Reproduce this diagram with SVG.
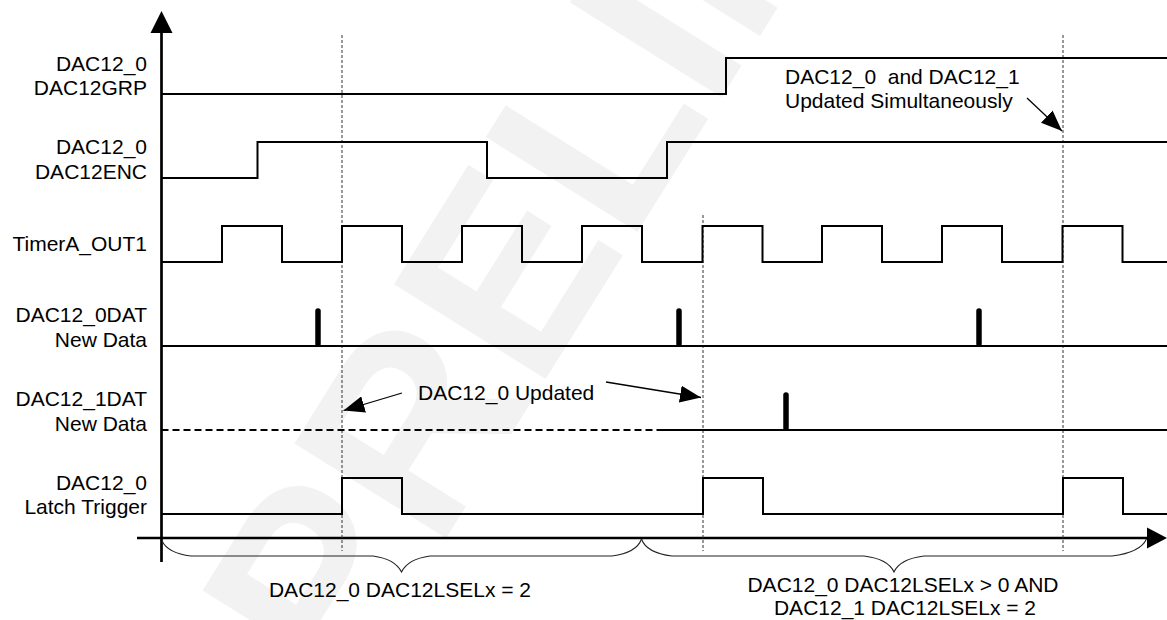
<svg xmlns="http://www.w3.org/2000/svg" width="1167" height="620" viewBox="0 0 1167 620">
  <style>
    .lbl { font-family: "Liberation Sans", Arial, sans-serif; font-size: 21px; fill: #000; }
    .end { text-anchor: end; }
    .mid { text-anchor: middle; }
    .sig { fill: none; stroke: #000; stroke-width: 2; stroke-linejoin: miter; }
    .axis { fill: none; stroke: #000; stroke-width: 2.7; }
    .dot { fill: none; stroke: #333; stroke-width: 1; stroke-dasharray: 3 2; }
    .tick { stroke: #000; stroke-width: 5.5; stroke-linecap: round; }
    .brace { fill: none; stroke: #222; stroke-width: 1.1; }
    .arr { fill: none; stroke: #000; stroke-width: 1.3; }
    .wm { font-family: "Liberation Sans", Arial, sans-serif; font-weight: bold; font-size: 260px; fill: #f2f2f2; }
  </style>
  <defs>
    <marker id="ah" viewBox="0 0 21 17" markerWidth="21" markerHeight="17" refX="21" refY="8.5" orient="auto" markerUnits="userSpaceOnUse">
      <path d="M0 0 L21 8.5 L0 17 Z" fill="#000"/>
    </marker>
  </defs>
  <rect width="1167" height="620" fill="#fff"/>
  <text class="wm" transform="translate(345,700) rotate(-58)">PRELIMINARY</text>

  <g id="axes">
    <line class="axis" x1="161.5" y1="30" x2="161.5" y2="562"/>
    <polygon points="161.5,11 150.5,33 172.5,33" fill="#000"/>
    <line class="axis" x1="137" y1="538" x2="1149" y2="538"/>
    <polygon points="1167,538 1147,527.5 1147,548.5" fill="#000"/>
  </g>

  <g id="guides">
    <line class="dot" x1="342" y1="35" x2="342" y2="551"/>
    <line class="dot" x1="703" y1="215" x2="703" y2="551"/>
    <line class="dot" x1="1063" y1="35" x2="1063" y2="551"/>
  </g>

  <g id="sig-grp">
    <text class="lbl end" x="147" y="71">DAC12_0</text>
    <text class="lbl end" x="147" y="95">DAC12GRP</text>
    <path class="sig" d="M161.5 94 H726 V58 H1167"/>
  </g>
  <g id="sig-enc">
    <text class="lbl end" x="147" y="154">DAC12_0</text>
    <text class="lbl end" x="147" y="178.5">DAC12ENC</text>
    <path class="sig" d="M161.5 178 H257.5 V142 H487 V178 H667 V142 H1167"/>
  </g>
  <g id="sig-timer">
    <text class="lbl end" x="147" y="251">TimerA_OUT1</text>
    <path class="sig" d="M161.5 262 H222 V226 H282 V262 H342 V226 H402 V262 H462 V226 H522 V262 H582 V226 H642 V262 H702.5 V226 H762.5 V262 H822 V226 H882 V262 H942 V226 H1002 V262 H1062.5 V226 H1122.5 V262 H1167"/>
  </g>
  <g id="sig-0dat">
    <text class="lbl end" x="147" y="322">DAC12_0DAT</text>
    <text class="lbl end" x="147" y="347">New Data</text>
    <path class="sig" d="M161.5 346 H1167"/>
    <line class="tick" x1="318" y1="311" x2="318" y2="344"/>
    <line class="tick" x1="679" y1="311" x2="679" y2="344"/>
    <line class="tick" x1="979" y1="311" x2="979" y2="344"/>
  </g>
  <g id="sig-1dat">
    <text class="lbl end" x="147" y="406">DAC12_1DAT</text>
    <text class="lbl end" x="147" y="431">New Data</text>
    <path class="sig" d="M161.5 430 H663" stroke-width="2.5" stroke-dasharray="7 4"/>
    <path class="sig" d="M663 430 H1167"/>
    <line class="tick" x1="786" y1="395" x2="786" y2="428"/>
  </g>
  <g id="sig-latch">
    <text class="lbl end" x="147" y="490">DAC12_0</text>
    <text class="lbl end" x="147" y="514">Latch Trigger</text>
    <path class="sig" d="M161.5 514 H342 V478 H402 V514 H703 V478 H763 V514 H1063 V478 H1123 V514 H1167"/>
  </g>

  <g id="connectors">
    <line class="arr" x1="402" y1="393" x2="343.5" y2="410.5" marker-end="url(#ah)"/>
    <line class="arr" x1="606" y1="382" x2="701" y2="397.5" marker-end="url(#ah)"/>
    <line class="arr" x1="1027" y1="98" x2="1062" y2="131" marker-end="url(#ah)"/>
  </g>

  <g id="notes">
    <text class="lbl" x="418" y="400">DAC12_0 Updated</text>
    <text class="lbl" x="785" y="83.5" style="white-space:pre">DAC12_0  and DAC12_1</text>
    <text class="lbl" x="785" y="107.5">Updated Simultaneously</text>
  </g>

  <g id="brace-left">
    <path class="brace" d="M162 541 C166 549 174 554 191 556 L373 556 C388 558 397 563 401.5 572 C406 563 415 558 430 556 L612 556 C627 554 638 549 641.5 539"/>
    <text class="lbl mid" x="400" y="597">DAC12_0 DAC12LSELx = 2</text>
  </g>
  <g id="brace-right">
    <path class="brace" d="M641.5 539 C645 549 656 554 672 556 L864 556 C880 558 890 563 894 572 C898 563 908 558 924 556 L1112 556 C1128 554 1142 549 1146.5 539"/>
    <text class="lbl mid" x="903" y="592">DAC12_0 DAC12LSELx &gt; 0 AND</text>
    <text class="lbl mid" x="905" y="615">DAC12_1 DAC12LSELx = 2</text>
  </g>
</svg>
